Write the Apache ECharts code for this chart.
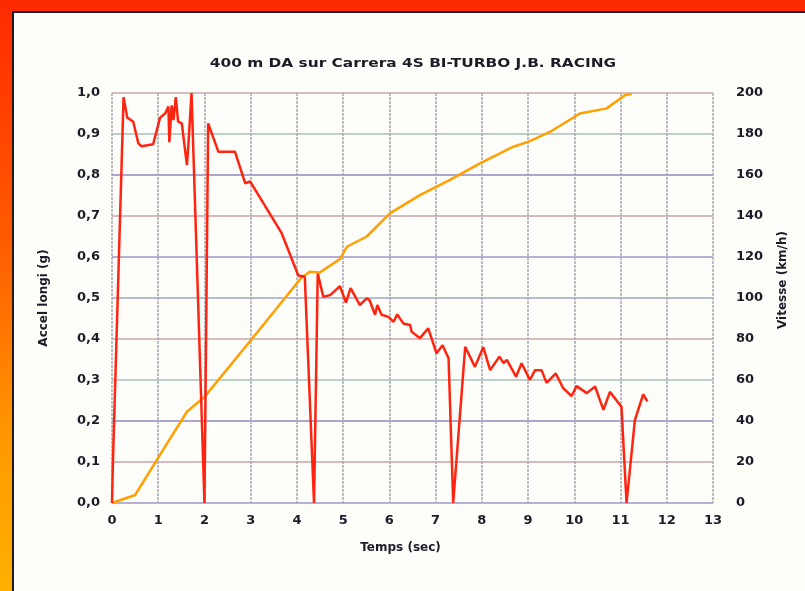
<!DOCTYPE html>
<html>
<head>
<meta charset="utf-8">
<title>400 m DA sur Carrera 4S BI-TURBO J.B. RACING</title>
<script src="https://cdn.jsdelivr.net/npm/echarts@6/dist/echarts.min.js"></script>
<style>
  html, body { margin: 0; padding: 0; width: 805px; height: 591px; overflow: hidden; }
  body { background: linear-gradient(180deg, #ff2a00 0%, #ff5a00 40%, #ff9a00 75%, #ffb000 100%); position: relative; }
  #frame { position: absolute; left: 12px; top: 11px; width: 793px; height: 580px;
           border-left: 2px solid #1a1a22; border-top: 2px solid #1a1a40; background: #fdfdfa; box-sizing: border-box; }
  #main { width: 791px; height: 578px; }
</style>
</head>
<body>
<div id="frame"><div id="main"></div></div>
<script>
// acceleration longitudinale (g) vs temps (s)
var accelT = [0, 0.02, 0.25, 0.33, 0.46, 0.57, 0.64, 0.89, 1.04, 1.15, 1.22, 1.24, 1.29, 1.33, 1.38, 1.43, 1.51, 1.62, 1.65, 1.72,
  2.0, 2.08, 2.30, 2.66, 2.88, 2.99, 3.67, 4.03, 4.17, 4.37, 4.45, 4.57, 4.72, 4.93, 5.06, 5.16, 5.36, 5.51, 5.57, 5.69, 5.74,
  5.83, 5.98, 6.09, 6.17, 6.30, 6.45, 6.48, 6.66, 6.84, 7.02, 7.15, 7.28, 7.38, 7.64, 7.85, 8.03, 8.18, 8.38, 8.47, 8.54,
  8.74, 8.86, 9.04, 9.15, 9.29, 9.40, 9.60, 9.76, 9.94, 10.05, 10.27, 10.45, 10.63, 10.77, 11.02, 11.13, 11.31, 11.49, 11.58];
var accelG = [0, 0.1, 0.99, 0.94, 0.93, 0.877, 0.87, 0.875, 0.94, 0.95, 0.967, 0.88, 0.97, 0.934, 0.99, 0.93, 0.926, 0.824, 0.87, 1.0,
  0, 0.926, 0.857, 0.857, 0.78, 0.784, 0.658, 0.555, 0.552, 0, 0.56, 0.503, 0.507, 0.529, 0.489, 0.524, 0.483, 0.499, 0.495, 0.459, 0.483,
  0.459, 0.454, 0.442, 0.46, 0.438, 0.434, 0.418, 0.402, 0.426, 0.365, 0.385, 0.353, 0, 0.381, 0.332, 0.38, 0.324, 0.357, 0.341, 0.349,
  0.308, 0.341, 0.30, 0.324, 0.324, 0.293, 0.316, 0.28, 0.261, 0.285, 0.268, 0.284, 0.227, 0.271, 0.235, 0, 0.202, 0.265, 0.248];

// vitesse (km/h) vs temps (s)
var speedT = [0, 0.5, 0.97, 1.62, 2.01, 3.06, 4.1, 4.28, 4.5, 4.93, 5.08, 5.51, 6.01, 6.66, 7.31, 7.96, 8.68, 9.04, 9.47, 10.12, 10.7, 11.1, 11.24];
var speedV = [0, 3.9, 21, 44.5, 52, 81, 110, 112.8, 112.5, 119, 125, 130, 141.3, 150.2, 157.6, 165.7, 173.8, 176.5, 181, 190, 192.5, 199, 199.5];

var xTicks = [0, 13, 1];
var accelTicks = [0, 1, 0.1];
var speedTicks = [0, 200, 20];

function pairs(xs, ys) {
  var out = [];
  for (var i = 0; i < xs.length; i++) out.push([xs[i], ys[i]]);
  return out;
}

var chart = echarts.init(document.getElementById('main'), null, { renderer: 'canvas' });
var labelFont = { fontFamily: 'DejaVu Sans', fontWeight: 'bold', fontSize: 13, color: '#1c1c28' };
var nameFont = { fontFamily: 'DejaVu Sans', fontWeight: 'bold', fontSize: 12, color: '#1c1c28' };

var option = {
  animation: false,
  backgroundColor: 'transparent',
  // titre un peu etire, comme sur la page du magazine
  graphic: [{
    type: 'text',
    x: 399,
    y: 51,
    scaleX: 1.28,
    style: {
      text: '400 m DA sur Carrera 4S BI-TURBO J.B. RACING',
      font: 'bold 12px "DejaVu Sans"',
      fill: '#1c1c28',
      textAlign: 'center',
      textVerticalAlign: 'middle'
    }
  }],
  grid: { left: 98, top: 80, right: 92, bottom: 88 },
  xAxis: {
    type: 'value',
    min: xTicks[0], max: xTicks[1], interval: xTicks[2],
    name: 'Temps (sec)',
    nameLocation: 'middle',
    nameGap: 39,
    nameTextStyle: Object.assign({ padding: [0, 24, 0, 0] }, nameFont),
    axisLine: { show: false },
    axisTick: { show: false },
    axisLabel: Object.assign({ margin: 11 }, labelFont),
    splitLine: { lineStyle: { color: '#aca6b8', width: 1.5, type: [3, 1] } }
  },
  yAxis: [{
    type: 'value',
    min: accelTicks[0], max: accelTicks[1], interval: accelTicks[2],
    name: 'Accel longi (g)',
    nameLocation: 'middle',
    nameGap: 62,
    nameTextStyle: nameFont,
    axisLine: { show: false },
    axisTick: { show: false },
    axisLabel: Object.assign({ margin: 12, formatter: function (v) { return v.toFixed(1).replace('.', ','); } }, labelFont),
    splitLine: { lineStyle: { color: ['#9c96c8', '#c8a0a8', '#8e88c0', '#a8c0b8', '#c8a8a8', '#9ca8c8'], width: 1.5 } }
  }, {
    type: 'value',
    min: speedTicks[0], max: speedTicks[1], interval: speedTicks[2],
    name: 'Vitesse (km/h)',
    nameLocation: 'middle',
    nameGap: 64,
    nameTextStyle: Object.assign({ padding: [0, 0, 0, 36] }, nameFont),
    position: 'right',
    axisLine: { show: false },
    axisTick: { show: false },
    axisLabel: Object.assign({ margin: 23 }, labelFont),
    splitLine: { show: false }
  }],
  series: [{
    name: 'Vitesse',
    type: 'line',
    yAxisIndex: 1,
    data: pairs(speedT, speedV),
    showSymbol: false,
    lineStyle: { color: '#ffa000', width: 2.5 },
    z: 2
  }, {
    name: 'Accel longi',
    type: 'line',
    yAxisIndex: 0,
    data: pairs(accelT, accelG),
    showSymbol: false,
    lineStyle: { color: '#ff2410', width: 2.5 },
    z: 3
  }]
};
chart.setOption(option);
</script>
</body>
</html>
